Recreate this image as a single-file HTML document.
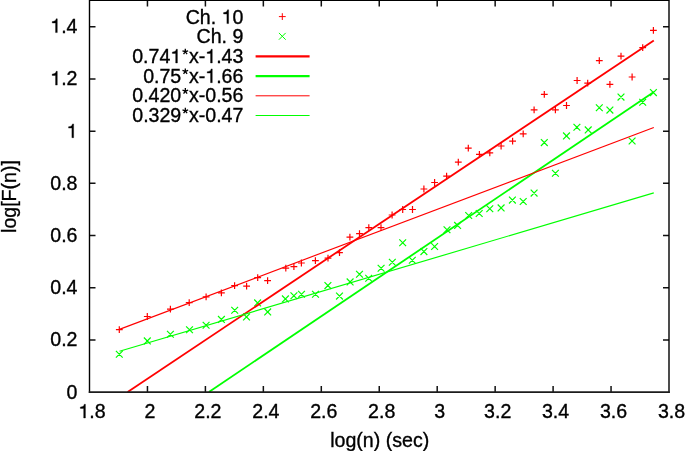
<!DOCTYPE html>
<html><head><meta charset="utf-8"><style>
html,body{margin:0;padding:0;background:#fff;}
body{width:685px;height:451px;overflow:hidden;}
.h1{fill-opacity:0;stroke-opacity:0}
text{stroke:#000;stroke-width:0.35px;}
svg{display:block;will-change:transform;font-family:"Liberation Sans",sans-serif;font-size:19.6px;}
</style></head><body>
<svg width="685" height="451" viewBox="0 0 685 451">
<rect width="685" height="451" fill="#fff"/>
<text x="77.5" y="398.7" text-anchor="end">0</text>
<text x="77.5" y="346.4" text-anchor="end">0.2</text>
<text x="77.5" y="294.1" text-anchor="end">0.4</text>
<text x="77.5" y="242.0" text-anchor="end">0.6</text>
<text x="77.5" y="189.9" text-anchor="end">0.8</text>
<text x="77.5" y="137.7" text-anchor="end"><tspan class="h1">1</tspan></text>
<text x="77.5" y="85.1" text-anchor="end"><tspan class="h1">1</tspan>.2</text>
<text x="77.5" y="32.6" text-anchor="end"><tspan class="h1">1</tspan>.4</text>
<text x="92.0" y="418.0" text-anchor="middle"><tspan class="h1">1</tspan>.8</text>
<text x="149.9" y="418.0" text-anchor="middle">2</text>
<text x="207.9" y="418.0" text-anchor="middle">2.2</text>
<text x="265.9" y="418.0" text-anchor="middle">2.4</text>
<text x="323.8" y="418.0" text-anchor="middle">2.6</text>
<text x="381.7" y="418.0" text-anchor="middle">2.8</text>
<text x="439.7" y="418.0" text-anchor="middle">3</text>
<text x="497.7" y="418.0" text-anchor="middle">3.2</text>
<text x="555.6" y="418.0" text-anchor="middle">3.4</text>
<text x="613.6" y="418.0" text-anchor="middle">3.6</text>
<text x="671.5" y="418.0" text-anchor="middle">3.8</text>
<text x="379.7" y="447" text-anchor="middle">log(n) (sec)</text>
<text transform="translate(15.7 196.5) rotate(-90)" text-anchor="middle">log[F(n)]</text>
<path d="M115.9 329.6H122.7M119.3 326.2V333.0M143.9 316.5H150.7M147.3 313.1V319.9M167.0 309.2H173.8M170.4 305.8V312.6M185.8 302.6H192.6M189.2 299.2V306.0M202.7 296.8H209.5M206.1 293.4V300.2M218.0 292.8H224.8M221.4 289.4V296.2M231.2 285.7H238.0M234.6 282.3V289.1M243.2 286.1H250.0M246.6 282.7V289.5M254.3 277.7H261.1M257.7 274.3V281.1M264.2 280.6H271.0M267.6 277.2V284.0M282.4 268.1H289.2M285.8 264.7V271.5M290.5 266.6H297.3M293.9 263.2V270.0M298.0 263.0H304.8M301.4 259.6V266.4M312.0 260.6H318.8M315.4 257.2V264.0M324.6 258.1H331.4M328.0 254.7V261.5M336.1 252.7H342.9M339.5 249.3V256.1M346.5 237.2H353.3M349.9 233.8V240.6M356.1 233.6H362.9M359.5 230.2V237.0M365.4 227.6H372.2M368.8 224.2V231.0M377.6 227.6H384.4M381.0 224.2V231.0M388.7 215.0H395.5M392.1 211.6V218.4M399.3 209.5H406.1M402.7 206.1V212.9M409.1 209.5H415.9M412.5 206.1V212.9M420.5 189.0H427.3M423.9 185.6V192.4M431.2 182.5H438.0M434.6 179.1V185.9M443.2 176.1H450.0M446.6 172.7V179.5M454.9 162.1H461.7M458.3 158.7V165.5M464.9 148.2H471.7M468.3 144.8V151.6M476.0 154.4H482.8M479.4 151.0V157.8M486.4 152.8H493.2M489.8 149.4V156.2M497.7 146.0H504.5M501.1 142.6V149.4M509.2 141.2H516.0M512.6 137.8V144.6M519.8 133.8H526.6M523.2 130.4V137.2M530.7 109.9H537.5M534.1 106.5V113.3M540.9 94.4H547.7M544.3 91.0V97.8M552.0 109.9H558.8M555.4 106.5V113.3M563.1 105.5H569.9M566.5 102.1V108.9M573.7 80.5H580.5M577.1 77.1V83.9M584.3 83.2H591.1M587.7 79.8V86.6M595.9 60.6H602.7M599.3 57.2V64.0M606.5 84.3H613.3M609.9 80.9V87.7M617.6 56.1H624.4M621.0 52.7V59.5M628.7 77.0H635.5M632.1 73.6V80.4M639.3 47.7H646.1M642.7 44.3V51.1M650.0 30.4H656.8M653.4 27.0V33.8" stroke="#ff0000" stroke-width="1.2" fill="none"/>
<path d="M115.9 350.9L122.7 357.7M115.9 357.7L122.7 350.9M143.9 337.5L150.7 344.3M143.9 344.3L150.7 337.5M167.0 330.9L173.8 337.7M167.0 337.7L173.8 330.9M186.1 326.4L192.9 333.2M186.1 333.2L192.9 326.4M202.7 321.8L209.5 328.6M202.7 328.6L209.5 321.8M218.0 316.0L224.8 322.8M218.0 322.8L224.8 316.0M231.3 306.9L238.1 313.7M231.3 313.7L238.1 306.9M243.1 313.5L249.9 320.3M243.1 320.3L249.9 313.5M254.2 299.5L261.0 306.3M254.2 306.3L261.0 299.5M264.3 308.5L271.1 315.3M264.3 315.3L271.1 308.5M282.0 295.5L288.8 302.3M282.0 302.3L288.8 295.5M290.5 292.4L297.3 299.2M290.5 299.2L297.3 292.4M298.1 290.8L304.9 297.6M298.1 297.6L304.9 290.8M312.1 290.8L318.9 297.6M312.1 297.6L318.9 290.8M324.5 282.2L331.3 289.0M324.5 289.0L331.3 282.2M336.1 292.7L342.9 299.5M336.1 299.5L342.9 292.7M346.7 278.5L353.5 285.3M346.7 285.3L353.5 278.5M356.1 270.8L362.9 277.6M356.1 277.6L362.9 270.8M365.3 274.9L372.1 281.7M365.3 281.7L372.1 274.9M377.7 264.9L384.5 271.7M377.7 271.7L384.5 264.9M388.9 258.9L395.7 265.7M388.9 265.7L395.7 258.9M399.3 239.3L406.1 246.1M399.3 246.1L406.1 239.3M408.9 256.8L415.7 263.6M408.9 263.6L415.7 256.8M420.5 248.2L427.3 255.0M420.5 255.0L427.3 248.2M431.2 243.1L438.0 249.9M431.2 249.9L438.0 243.1M443.6 226.3L450.4 233.1M443.6 233.1L450.4 226.3M454.2 222.0L461.0 228.8M454.2 228.8L461.0 222.0M465.3 212.1L472.1 218.9M465.3 218.9L472.1 212.1M475.8 210.1L482.6 216.9M475.8 216.9L482.6 210.1M486.4 205.4L493.2 212.2M486.4 212.2L493.2 205.4M497.7 204.5L504.5 211.3M497.7 211.3L504.5 204.5M509.0 196.7L515.8 203.5M509.0 203.5L515.8 196.7M519.8 198.1L526.6 204.9M519.8 204.9L526.6 198.1M530.7 189.7L537.5 196.5M530.7 196.5L537.5 189.7M540.9 139.2L547.7 146.0M540.9 146.0L547.7 139.2M552.0 169.8L558.8 176.6M552.0 176.6L558.8 169.8M563.1 132.5L569.9 139.3M563.1 139.3L569.9 132.5M573.5 123.8L580.3 130.6M573.5 130.6L580.3 123.8M584.8 126.5L591.6 133.3M584.8 133.3L591.6 126.5M595.9 104.3L602.7 111.1M595.9 111.1L602.7 104.3M606.5 106.7L613.3 113.5M606.5 113.5L613.3 106.7M617.6 93.7L624.4 100.5M617.6 100.5L624.4 93.7M628.7 137.6L635.5 144.4M628.7 144.4L635.5 137.6M639.3 98.8L646.1 105.6M639.3 105.6L646.1 98.8M650.0 89.2L656.8 96.0M650.0 96.0L656.8 89.2" stroke="#00ff00" stroke-width="1.2" fill="none"/>
<path d="M127.63 392.00L653.80 40.57" stroke="#ff0000" stroke-width="1.8" fill="none"/>
<path d="M208.93 392.00L653.80 92.07" stroke="#00ff00" stroke-width="1.8" fill="none"/>
<path d="M119.40 329.37L653.80 127.47" stroke="#ff0000" stroke-width="1.15" fill="none"/>
<path d="M119.50 351.25L653.80 192.91" stroke="#00ff00" stroke-width="1.15" fill="none"/>
<path d="M89.5 339.99h6M669.0 339.99h-6M89.5 287.77h6M669.0 287.77h-6M89.5 235.56h6M669.0 235.56h-6M89.5 183.34h6M669.0 183.34h-6M89.5 131.13h6M669.0 131.13h-6M89.5 78.92h6M669.0 78.92h-6M89.5 26.70h6M669.0 26.70h-6M147.45 392.0v-6M147.45 0.39v6M205.40 392.0v-6M205.40 0.39v6M263.35 392.0v-6M263.35 0.39v6M321.30 392.0v-6M321.30 0.39v6M379.25 392.0v-6M379.25 0.39v6M437.20 392.0v-6M437.20 0.39v6M495.15 392.0v-6M495.15 0.39v6M553.10 392.0v-6M553.10 0.39v6M611.05 392.0v-6M611.05 0.39v6" stroke="#111" stroke-width="1.5" fill="none"/>
<path d="M89.5 -0.31V392.90M669.00 -0.31V392.90M88.8 0.39H669.75" stroke="#000" stroke-width="1.4" fill="none"/>
<path d="M88.8 392.00H669.75" stroke="#1c1c1c" stroke-width="1.75" fill="none"/>
<text x="243.4" y="23.6" text-anchor="end">Ch. <tspan class="h1">1</tspan>0</text>
<path d="M278.9 16.6H285.7M282.3 13.2V20.0" stroke="#ff0000" stroke-width="1" fill="none"/>
<text x="243.4" y="43.3" text-anchor="end">Ch. 9</text>
<path d="M278.9 32.9L285.7 39.7M278.9 39.7L285.7 32.9" stroke="#00ff00" stroke-width="1" fill="none"/>
<text x="243.4" y="63.0" text-anchor="end">0.74<tspan class="h1">1</tspan><tspan class="h1">*</tspan>x-<tspan class="h1">1</tspan>.43</text>
<path d="M255.6 56.4H309.6" stroke="#ff0000" stroke-width="2.2"/>
<text x="243.4" y="82.7" text-anchor="end">0.75<tspan class="h1">*</tspan>x-<tspan class="h1">1</tspan>.66</text>
<path d="M255.6 76.1H309.6" stroke="#00ff00" stroke-width="2.2"/>
<text x="243.4" y="102.4" text-anchor="end">0.420<tspan class="h1">*</tspan>x-0.56</text>
<path d="M255.6 95.8H309.6" stroke="#ff0000" stroke-width="1"/>
<text x="243.4" y="122.1" text-anchor="end">0.329<tspan class="h1">*</tspan>x-0.47</text>
<path d="M255.6 115.5H309.6" stroke="#00ff00" stroke-width="1"/>
<path d="M185.31 51.70L185.31 48.70M185.31 51.70L188.16 50.77M185.31 51.70L187.07 54.13M185.31 51.70L183.55 54.13M185.31 51.70L182.46 50.77M185.31 71.40L185.31 68.40M185.31 71.40L188.16 70.47M185.31 71.40L187.07 73.83M185.31 71.40L183.55 73.83M185.31 71.40L182.46 70.47M185.33 91.10L185.33 88.10M185.33 91.10L188.18 90.17M185.33 91.10L187.09 93.53M185.33 91.10L183.57 93.53M185.33 91.10L182.48 90.17M185.33 110.80L185.33 107.80M185.33 110.80L188.18 109.87M185.33 110.80L187.09 113.23M185.33 110.80L183.57 113.23M185.33 110.80L182.48 109.87" stroke="#000" stroke-width="1.3" fill="none"/>
<path d="M73.63 137.70L73.63 123.92L72.49 123.92C72.02 125.67 71.35 126.39 68.57 126.68L68.57 128.10L71.90 128.10L71.90 137.70ZM57.29 85.10L57.29 71.32L56.15 71.32C55.68 73.07 55.01 73.79 52.23 74.08L52.23 75.50L55.56 75.50L55.56 85.10ZM57.29 32.60L57.29 18.82L56.15 18.82C55.68 20.57 55.01 21.29 52.23 21.58L52.23 23.00L55.56 23.00L55.56 32.60ZM85.42 418.00L85.42 404.22L84.28 404.22C83.81 405.97 83.14 406.69 80.36 406.98L80.36 408.40L83.69 408.40L83.69 418.00ZM228.63 23.60L228.63 9.82L227.49 9.82C227.02 11.57 226.35 12.29 223.57 12.58L223.57 14.00L226.90 14.00L226.90 23.60ZM177.41 63.00L177.41 49.22L176.27 49.22C175.80 50.97 175.13 51.69 172.35 51.98L172.35 53.40L175.68 53.40L175.68 63.00ZM212.28 63.00L212.28 49.22L211.14 49.22C210.67 50.97 210.00 51.69 207.22 51.98L207.22 53.40L210.55 53.40L210.55 63.00ZM212.28 82.70L212.28 68.92L211.14 68.92C210.67 70.67 210.00 71.39 207.22 71.68L207.22 73.10L210.55 73.10L210.55 82.70Z" fill="#000" stroke="#000" stroke-width="0.35"/>
</svg>
</body></html>
